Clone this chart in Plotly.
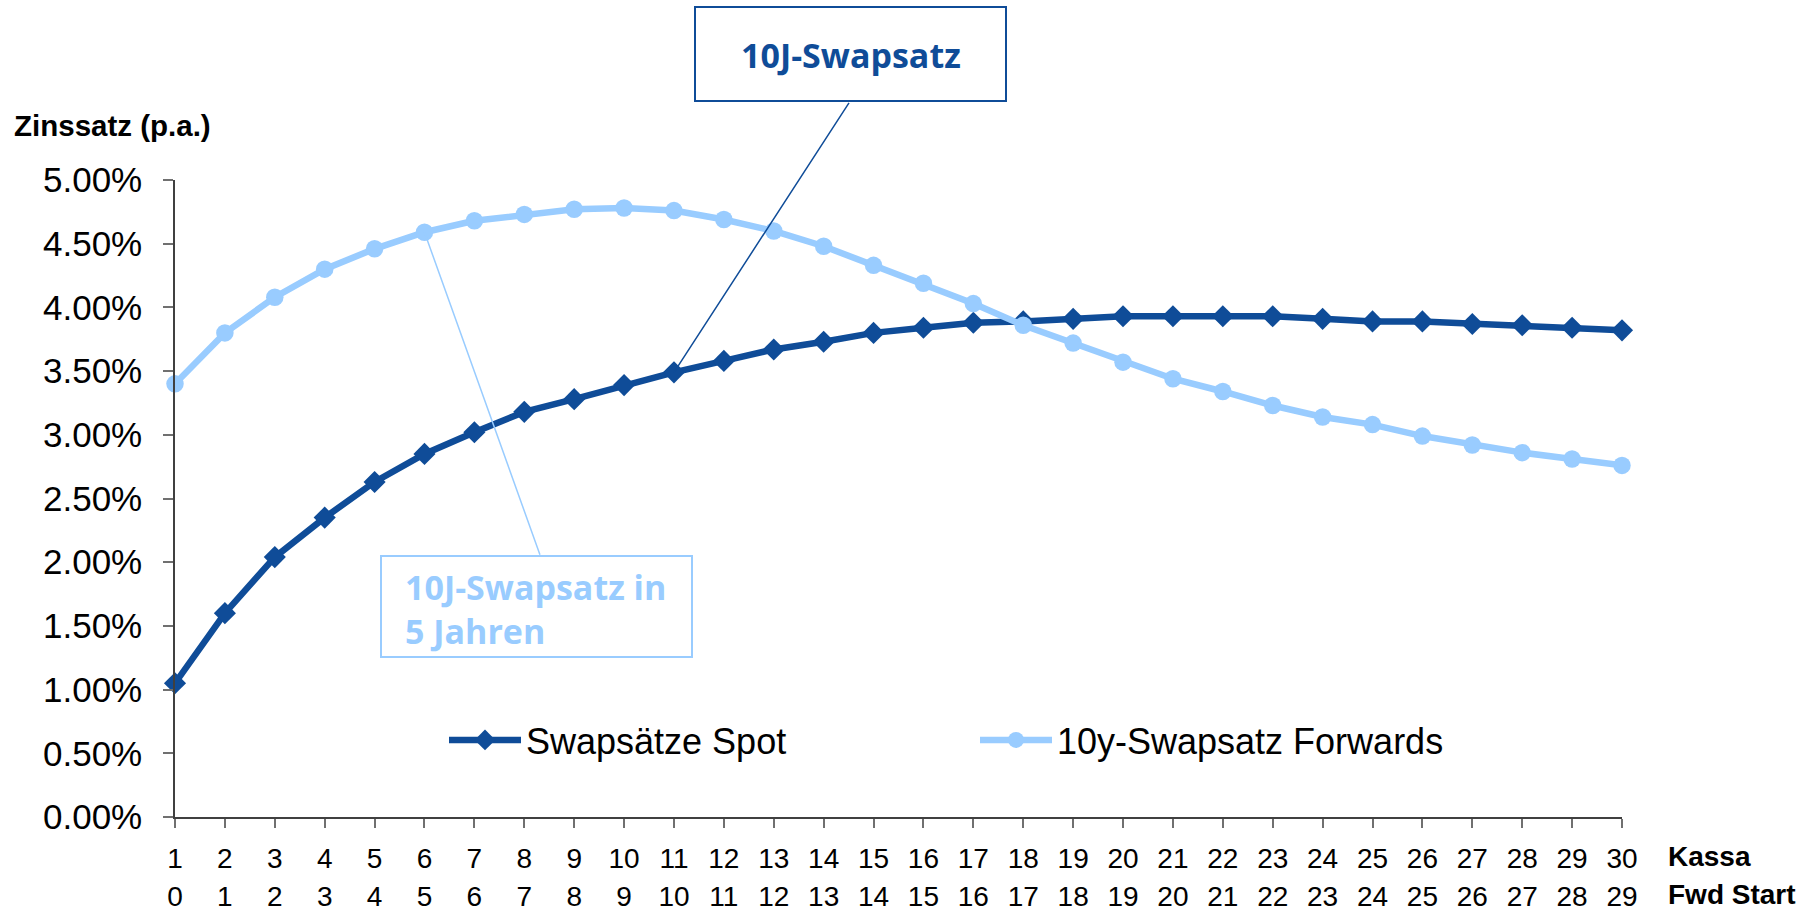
import plotly.graph_objects as go

kassa = [1, 2, 3, 4, 5, 6, 7, 8, 9, 10, 11, 12, 13, 14, 15,
         16, 17, 18, 19, 20, 21, 22, 23, 24, 25, 26, 27, 28, 29, 30]
fwd_start = [0, 1, 2, 3, 4, 5, 6, 7, 8, 9, 10, 11, 12, 13, 14,
             15, 16, 17, 18, 19, 20, 21, 22, 23, 24, 25, 26, 27, 28, 29]
spot = [1.05, 1.60, 2.04, 2.35, 2.63, 2.85, 3.02, 3.18, 3.28, 3.39,
        3.49, 3.58, 3.67, 3.73, 3.80, 3.84, 3.88, 3.89, 3.91, 3.93,
        3.93, 3.93, 3.93, 3.91, 3.89, 3.89, 3.87, 3.86, 3.84, 3.82]
fwd10 = [3.40, 3.80, 4.08, 4.30, 4.46, 4.59, 4.68, 4.73, 4.77, 4.78,
         4.76, 4.69, 4.60, 4.48, 4.33, 4.19, 4.03, 3.86, 3.72, 3.57,
         3.44, 3.34, 3.23, 3.14, 3.08, 2.99, 2.92, 2.86, 2.81, 2.76]
series_names = ["Swapsätze Spot", "10y-Swapsatz Forwards"]
y_ticks = [0, 0.5, 1, 1.5, 2, 2.5, 3, 3.5, 4, 4.5, 5]

DARK = "#0F4C98"
LIGHT = "#99CCFF"
FONT = "Liberation Sans, Arial, sans-serif"
BOXFONT = "Open Sans, Noto Sans, sans-serif"

fig = go.Figure()
fig.add_trace(go.Scatter(
    x=kassa, y=spot, name=series_names[0], mode="lines+markers",
    line=dict(color=DARK, width=6.5),
    marker=dict(symbol="diamond", size=17, color=DARK),
    cliponaxis=False))
fig.add_trace(go.Scatter(
    x=kassa, y=fwd10, name=series_names[1], mode="lines+markers",
    line=dict(color=LIGHT, width=6.5),
    marker=dict(symbol="circle", size=17.5, color=LIGHT),
    cliponaxis=False))
# carrier for the second row of x tick labels (Fwd Start)
fig.add_trace(go.Scatter(x=[], y=[], xaxis="x2", showlegend=False, hoverinfo="skip"))

fig.update_layout(
    width=1809, height=911,
    margin=dict(l=175, r=187, t=180, b=94, autoexpand=False),
    paper_bgcolor="white", plot_bgcolor="white",
    font=dict(family=FONT, color="black"),
    showlegend=True,
    legend=dict(orientation="h", x=(444 - 175) / 1447, y=(817 - 740) / 637,
                xanchor="left", yanchor="middle",
                font=dict(family=FONT, size=36, color="black"),
                itemwidth=72, entrywidth=444, entrywidthmode="pixels",
                bgcolor="rgba(0,0,0,0)"),
    xaxis=dict(range=[1, 30], tickmode="array", tickvals=kassa,
               ticktext=[str(k) for k in kassa], automargin=False,
               showgrid=False, zeroline=False, showline=True, linecolor="#404040", linewidth=1.5,
               ticks="outside", ticklen=9, tickcolor="#707070", tickwidth=1.5,
               tickfont=dict(family=FONT, size=28, color="black"), ticklabelstandoff=7),
    xaxis2=dict(range=[1, 30], matches="x", overlaying="x", anchor="y", side="bottom",
                tickmode="array", tickvals=kassa, ticktext=[str(f) for f in fwd_start],
                automargin=False,
                showgrid=False, zeroline=False, showline=False, ticks="",
                tickfont=dict(family=FONT, size=28, color="black"), ticklabelstandoff=60),
    yaxis=dict(range=[0, 5], tickmode="array", tickvals=y_ticks,
               ticktext=[f"{v:.2f}%" for v in y_ticks], automargin=False,
               showgrid=False, zeroline=False, showline=True, linecolor="#404040", linewidth=1.5,
               ticks="outside", ticklen=10, tickcolor="#707070", tickwidth=1.5,
               tickfont=dict(family=FONT, size=35, color="black"), ticklabelstandoff=14),
)

# callout boxes
fig.add_shape(type="rect", xref="paper", yref="paper",
              x0=(695 - 175) / 1447, x1=(1006 - 175) / 1447,
              y0=(817 - 101) / 637, y1=(817 - 7) / 637,
              line=dict(color=DARK, width=2), fillcolor="white", layer="above")
fig.add_shape(type="rect", xref="paper", yref="paper",
              x0=(381 - 175) / 1447, x1=(692 - 175) / 1447,
              y0=(817 - 657) / 637, y1=(817 - 556) / 637,
              line=dict(color=LIGHT, width=2), fillcolor="white", layer="above")

annotations = [
    dict(text="<b>10J-Swapsatz</b>", xref="paper", yref="paper",
         x=(851 - 175) / 1447, y=(817 - 55) / 637, xanchor="center", yanchor="middle",
         showarrow=False, font=dict(family=BOXFONT, size=34, color=DARK)),
    dict(text="<b>10J-Swapsatz in<br>5 Jahren</b>", xref="paper", yref="paper",
         x=(403 - 175) / 1447, y=(817 - 609) / 637, xanchor="left", yanchor="middle",
         align="left", showarrow=False, font=dict(family=BOXFONT, size=34, color=LIGHT)),
    # connector lines from boxes to data points
    dict(text="", x=kassa[10], y=spot[10], xref="x", yref="y",
         showarrow=True, arrowhead=0, arrowwidth=1.5, arrowcolor=DARK,
         axref="pixel", ayref="pixel", ax=850 - 674, ay=101 - 372, standoff=0),
    dict(text="", x=kassa[5], y=fwd10[5], xref="x", yref="y",
         showarrow=True, arrowhead=0, arrowwidth=1.5, arrowcolor=LIGHT,
         axref="pixel", ayref="pixel", ax=540 - 424, ay=556 - 232, standoff=0),
    dict(text="<b>Zinssatz (p.a.)</b>", xref="paper", yref="paper",
         x=(12 - 175) / 1447, y=(817 - 125) / 637, xanchor="left", yanchor="middle",
         showarrow=False, font=dict(family=FONT, size=29.5, color="black")),
    dict(text="<b>Kassa</b>", xref="paper", yref="paper",
         x=(1666 - 175) / 1447, y=(817 - 856) / 637, xanchor="left", yanchor="middle",
         showarrow=False, font=dict(family=FONT, size=28, color="black")),
    dict(text="<b>Fwd Start</b>", xref="paper", yref="paper",
         x=(1666 - 175) / 1447, y=(817 - 894) / 637, xanchor="left", yanchor="middle",
         showarrow=False, font=dict(family=FONT, size=28, color="black")),
]
fig.update_layout(annotations=annotations)

fig.write_html("out.html", config={"displayModeBar": False},
               post_script="document.body.style.margin='0';")
